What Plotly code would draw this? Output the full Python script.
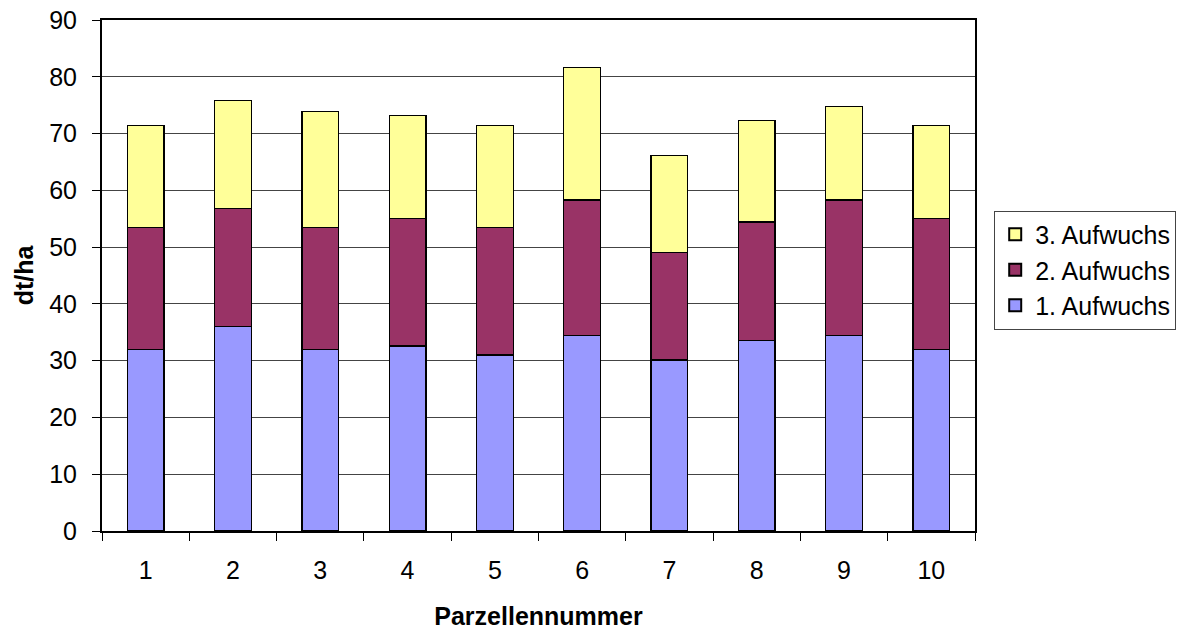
import plotly.graph_objects as go

parzellen = ["1", "2", "3", "4", "5", "6", "7", "8", "9", "10"]
aufwuchs_1 = [32.0, 36.0, 32.0, 32.6, 31.0, 34.4, 30.1, 33.6, 34.4, 32.0]
aufwuchs_2 = [21.4, 20.8, 21.4, 22.4, 22.4, 23.9, 18.9, 20.8, 23.9, 23.0]
aufwuchs_3 = [18.0, 19.0, 20.5, 18.2, 18.0, 23.3, 17.1, 17.9, 16.5, 16.4]

y_ticks = [0, 10, 20, 30, 40, 50, 60, 70, 80, 90]

series = [
    ("1. Aufwuchs", aufwuchs_1, "#9999FF"),
    ("2. Aufwuchs", aufwuchs_2, "#993366"),
    ("3. Aufwuchs", aufwuchs_3, "#FFFF99"),
]

fig = go.Figure()
for name, vals, color in series:
    fig.add_trace(go.Bar(
        x=parzellen, y=vals, name=name,
        marker=dict(color=color, line=dict(color="black", width=1.3)),
    ))

family = "Liberation Sans, Arial, sans-serif"
font = dict(family=family, size=25, color="black")

fig.update_layout(
    barmode="stack",
    bargap=0.58,
    width=1188, height=630,
    margin=dict(l=102, r=211, t=20, b=99),
    paper_bgcolor="white",
    plot_bgcolor="white",
    font=font,
    showlegend=True,
    legend=dict(
        traceorder="reversed",
        x=1.022, y=0.627, xanchor="left", yanchor="top",
        bordercolor="#444", borderwidth=1,
        font=dict(family=family, size=25, color="black"),
        itemsizing="constant",
        itemwidth=30,
        tracegroupgap=7,
    ),
    xaxis=dict(
        title=dict(text="<b>Parzellennummer</b>", standoff=27,
                   font=dict(family=family, size=25)),
        tickfont=dict(family=family, size=25),
        ticks="outside", tickson="boundaries", ticklen=8, tickcolor="black",
        ticklabelstandoff=16,
        showline=True, linecolor="black", linewidth=2, mirror=True,
        showgrid=False, automargin=False,
    ),
    yaxis=dict(
        title=dict(text="<b>dt/ha</b>", standoff=8,
                   font=dict(family=family, size=25)),
        tickfont=dict(family=family, size=25),
        range=[0, 90], tickvals=y_ticks,
        ticks="outside", ticklen=8, tickcolor="black",
        ticklabelstandoff=10,
        showline=True, linecolor="black", linewidth=2, mirror=True,
        showgrid=True, gridcolor="#444", gridwidth=1,
        zeroline=False, automargin=False,
    ),
)

fig.write_html("out.html")
